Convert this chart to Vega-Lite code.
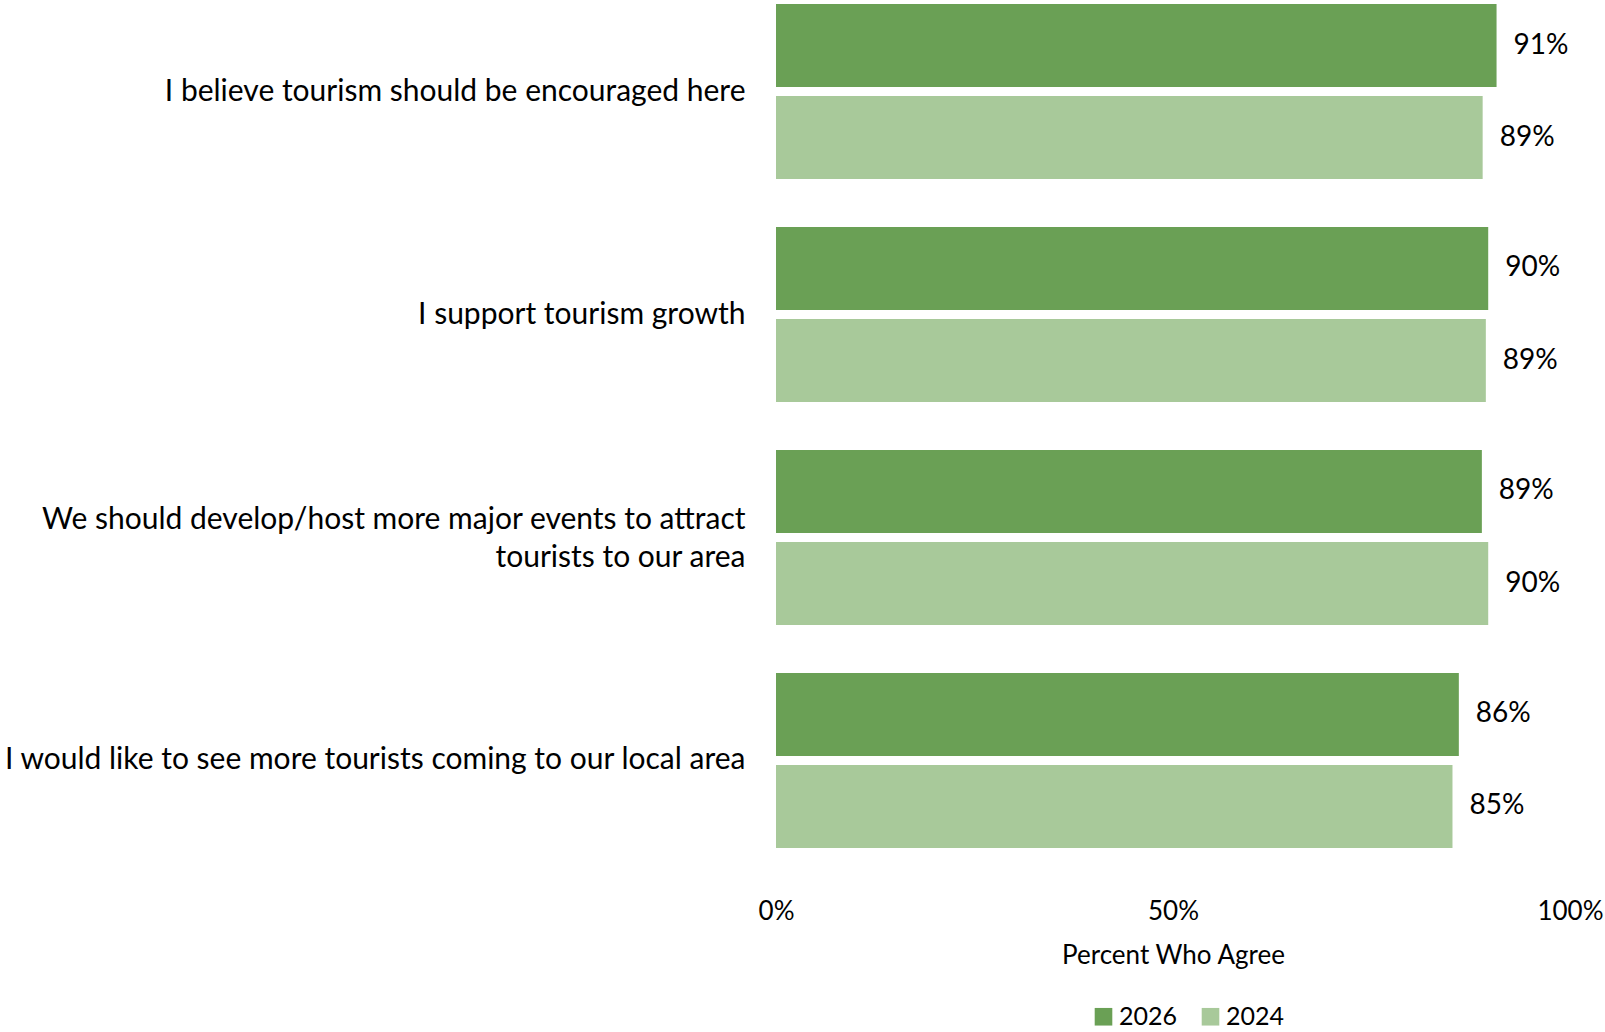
{
  "$schema": "https://vega.github.io/schema/vega-lite/v6.json",
  "autosize": {"type": "none"},
  "width": 794,
  "height": 852,
  "padding": {"left": 776, "top": 0, "right": 35, "bottom": 180},
  "background": "white",
  "config": {
    "view": {"stroke": null},
    "font": "Lato",
    "axis": {"labelFont": "Lato", "titleFont": "Lato", "labelColor": "#000000", "titleColor": "#000000"},
    "legend": {"labelFont": "Lato"}
  },
  "data": {
    "values": [
      {"statement": "I believe tourism should be encouraged here", "year": "2026", "value": 0.9075},
      {"statement": "I believe tourism should be encouraged here", "year": "2024", "value": 0.890},
      {"statement": "I support tourism growth", "year": "2026", "value": 0.897},
      {"statement": "I support tourism growth", "year": "2024", "value": 0.894},
      {"statement": "We should develop/host more major events to attract|tourists to our area", "year": "2026", "value": 0.889},
      {"statement": "We should develop/host more major events to attract|tourists to our area", "year": "2024", "value": 0.897},
      {"statement": "I would like to see more tourists coming to our local area", "year": "2026", "value": 0.860},
      {"statement": "I would like to see more tourists coming to our local area", "year": "2024", "value": 0.852}
    ]
  },
  "encoding": {
    "y": {
      "field": "statement",
      "type": "nominal",
      "sort": null,
      "scale": {"paddingInner": 0.215, "paddingOuter": 0.018},
      "axis": {
        "title": null,
        "domain": false,
        "ticks": false,
        "labelPadding": 31,
        "labelFontSize": 30,
        "labelLimit": 0,
        "labelLineHeight": 38,
        "labelExpr": "split(datum.label, '|')",
        "labelOffset": {
          "condition": {"test": "indexof(datum.value, '|') >= 0", "value": -17},
          "value": 0
        }
      }
    },
    "yOffset": {
      "field": "year",
      "type": "nominal",
      "sort": ["2026", "2024"],
      "scale": {"paddingInner": 0.098, "paddingOuter": 0}
    },
    "x": {
      "field": "value",
      "type": "quantitative",
      "scale": {"domain": [0, 1], "nice": false},
      "axis": {
        "title": "Percent Who Agree",
        "values": [0, 0.5, 1],
        "format": ".0%",
        "domain": false,
        "ticks": false,
        "grid": false,
        "labelFlush": false,
        "labelPadding": 46,
        "labelFontSize": 26,
        "titleFontSize": 26,
        "titleFontWeight": "normal",
        "titlePadding": 18
      }
    }
  },
  "layer": [
    {
      "mark": {"type": "bar"},
      "encoding": {
        "color": {
          "field": "year",
          "type": "nominal",
          "scale": {"domain": ["2026", "2024"], "range": ["#6aa055", "#a8c99a"]},
          "legend": {
            "title": null,
            "orient": "none",
            "direction": "horizontal",
            "legendX": 315,
            "legendY": 1004,
            "symbolType": "square",
            "symbolSize": 310,
            "symbolStrokeWidth": 0,
            "labelFontSize": 25,
            "columnPadding": 20,
            "labelOffset": 3
          }
        }
      }
    },
    {
      "mark": {"type": "text", "align": "left", "baseline": "middle", "dx": 17, "fontSize": 28, "color": "#000000"},
      "encoding": {
        "text": {"field": "value", "type": "quantitative", "format": ".0%"}
      }
    }
  ]
}
